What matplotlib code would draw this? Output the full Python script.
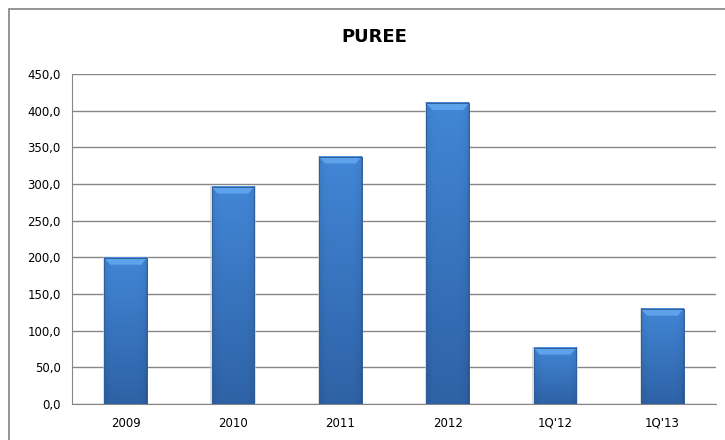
import numpy as np
import matplotlib.pyplot as plt
from matplotlib.patches import Polygon, Rectangle

# --- data ---
categories = ["2009", "2010", "2011", "2012", "1Q'12", "1Q'13"]
values = [199.5, 296.5, 337.5, 410.5, 77.0, 130.0]
yticks = [0, 50, 100, 150, 200, 250, 300, 350, 400, 450]
ytick_labels = [f"{v:.1f}".replace(".", ",") for v in yticks]

# --- figure ---
fig = plt.figure(figsize=(7.25, 4.4), dpi=100)
ax = fig.add_axes([0.0993, 0.0818, 0.8883, 0.750])

# outer chart frame (only top and left visible)
fig.patches.append(Rectangle((9 / 725, -0.1), 1.2, (431 / 440) + 0.1,
                             transform=fig.transFigure, fill=False,
                             ec='#8c8c8c', lw=1.3))

ax.set_yticks(yticks)
ax.set_yticklabels(ytick_labels, fontsize=8.5)
ax.set_xticks(range(len(categories)))
ax.set_xticklabels(categories, fontsize=8.5)
ax.tick_params(length=0, pad=8)
ax.tick_params(axis='x', pad=9)
ax.grid(axis='y', color='#868686', lw=1)
ax.set_axisbelow(True)
for s in ['top', 'right']:
    ax.spines[s].set_visible(False)
for s in ['left', 'bottom']:
    ax.spines[s].set_color('#868686')

fig.text(374 / 725, 1 - 37 / 440, "PUREE", ha='center', va='center',
         fontsize=13, fontweight='bold')

# --- bars with gradient ---
width = 0.40
top_c = np.array([0x42, 0x86, 0xd6]) / 255
bot_c = np.array([0x2e, 0x62, 0xa6]) / 255
tcol = np.linspace(0, 1, 60)
prof = 0.84 + 0.18 * np.sin(np.pi * tcol) ** 0.25
prof = np.clip(prof, 0, 1.0)

px_per_unit_y = 330 / 450
px_per_unit_x = 644 / len(categories)
bevel_h = 7 / px_per_unit_y
bevel_in = 6 / px_per_unit_x

bars = ax.bar(range(len(categories)), values, width=width, color='none',
              ec='none', zorder=3)
for b, v in zip(bars, values):
    x0 = b.get_x()
    x1 = x0 + b.get_width()
    # shadow
    ax.add_patch(Rectangle((x0 - 0.012, 0), x1 - x0 + 0.024, v + 1.0,
                           fc='#c8c8c8', ec='none', alpha=0.6, zorder=2.5))
    rows = 100
    vv = np.linspace(0, 1, rows)[:, None, None]
    img = (top_c * (1 - vv) + bot_c * vv) * prof[None, :, None]
    img = np.clip(img, 0, 1)
    ax.imshow(img, extent=[x0, x1, 0, v], aspect='auto', zorder=3,
              interpolation='bilinear')
    # bevel at top
    ax.add_patch(Polygon([[x0, v], [x1, v], [x1 - bevel_in, v - bevel_h],
                          [x0 + bevel_in, v - bevel_h]],
                         closed=True, fc='#5ea2ec', ec='none', zorder=4))
    ax.add_patch(Rectangle((x0, 0), x1 - x0, v, fill=False,
                           ec='#2f5e9c', lw=0.7, zorder=5))

ax.set_xlim(-0.5, len(categories) - 0.5)
ax.set_ylim(0, 450)

fig.savefig("out.png", dpi=100)
